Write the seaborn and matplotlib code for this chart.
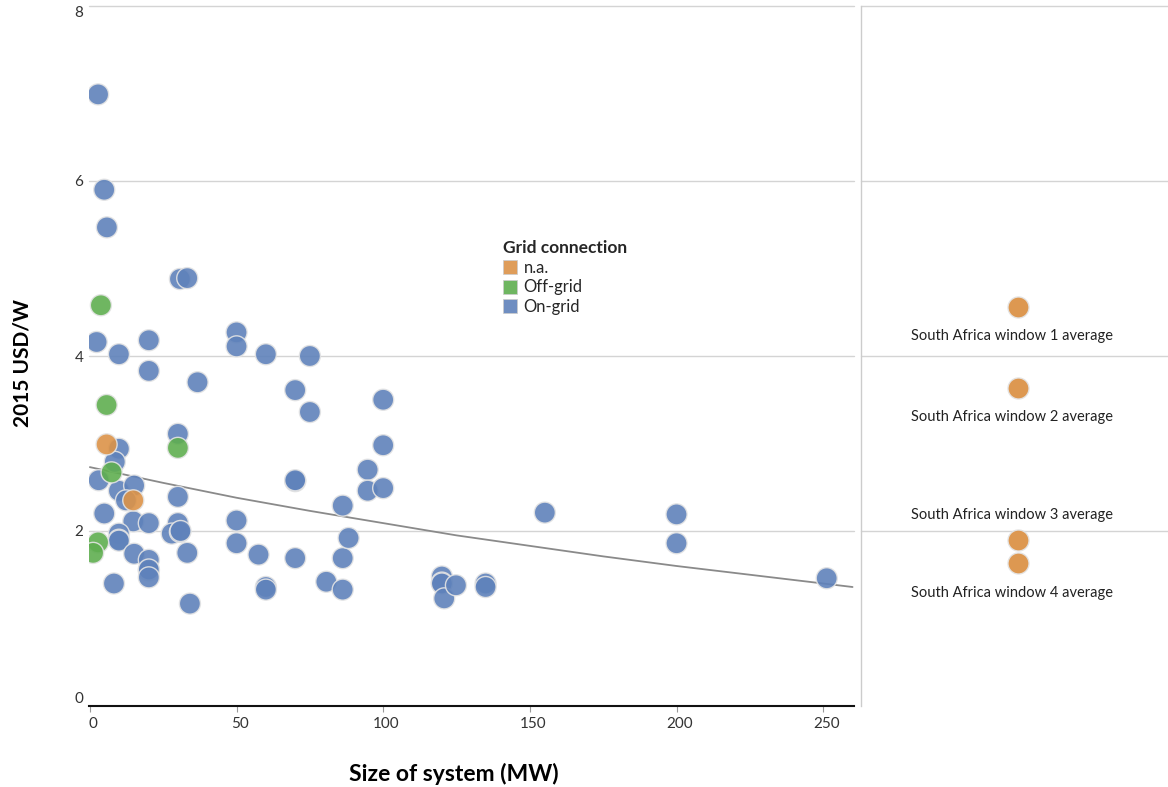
import matplotlib.pyplot as plt
import matplotlib.transforms as mtransforms
from matplotlib.lines import Line2D
import seaborn as sns
import pandas as pd

# size of system (MW) and 2015 USD/W
ongrid_mw = [2.8, 4.9, 5.8, 2.3, 9.9, 20.1, 20.1, 30.7, 33.2, 50, 50, 60, 75, 36.7, 70, 75,
             100, 100, 9.9, 30, 8.5, 3.0, 9.9, 15.1, 12.3, 4.9, 30, 70, 70, 94.7, 94.7, 100,
             86.2, 14.8, 20.1, 30, 27.9, 30.7, 30.9, 50, 50, 9.9, 9.9, 9.9, 15.1, 20.1, 20.1,
             20.1, 20.1, 33.2, 8.2, 34.1, 57.5, 70, 60, 60, 80.6, 86.2, 86.2, 88.2, 120, 120,
             120, 120.8, 124.8, 134.9, 134.9, 155.1, 200, 200, 251.2]
ongrid_usd = [6.99, 5.90, 5.47, 4.16, 4.02, 4.18, 3.83, 4.88, 4.89, 4.27, 4.11, 4.02, 4.00, 3.70, 3.61, 3.36,
              3.50, 2.98, 2.94, 3.11, 2.79, 2.58, 2.46, 2.52, 2.35, 2.20, 2.39, 2.57, 2.58, 2.70, 2.46, 2.49,
              2.29, 2.11, 2.09, 2.09, 1.97, 1.99, 2.00, 2.12, 1.86, 1.97, 1.90, 1.89, 1.74, 1.67, 1.55,
              1.56, 1.47, 1.75, 1.40, 1.17, 1.73, 1.69, 1.36, 1.33, 1.42, 1.33, 1.69, 1.92, 1.48, 1.41,
              1.40, 1.23, 1.38, 1.40, 1.36, 2.21, 2.19, 1.86, 1.46]
offgrid_mw = [3.75, 5.7, 30, 7.4, 2.8, 1.1]
offgrid_usd = [4.58, 3.44, 2.95, 2.67, 1.87, 1.75]
na_mw = [5.7, 14.8]
na_usd = [2.99, 2.35]

# exponential trend line, read at a few points
trend_mw = [0, 25, 50, 75, 100, 125, 150, 175, 200, 225, 260]
trend_usd = [2.73, 2.55, 2.38, 2.23, 2.09, 1.95, 1.83, 1.71, 1.60, 1.50, 1.36]

# South Africa window averages
sa_labels = ['South Africa window 1 average', 'South Africa window 2 average',
             'South Africa window 3 average', 'South Africa window 4 average']
sa_usd = [4.56, 3.64, 1.90, 1.63]
sa_label_side = ['below', 'below', 'above', 'below']

grid_order = ['n.a.', 'Off-grid', 'On-grid']
colors = {'n.a.': '#dc9348', 'Off-grid': '#5fae50', 'On-grid': '#5f82bb'}

df = pd.concat([
    pd.DataFrame({'size': ongrid_mw, 'cost': ongrid_usd, 'grid': 'On-grid'}),
    pd.DataFrame({'size': offgrid_mw, 'cost': offgrid_usd, 'grid': 'Off-grid'}),
    pd.DataFrame({'size': na_mw, 'cost': na_usd, 'grid': 'n.a.'}),
], ignore_index=True)

sns.set_theme(style="white")
plt.rcParams['font.family'] = ['Lato', 'DejaVu Sans']
grid_col = '#d4d4d4'
txt_col = '#333333'

fig = plt.figure(figsize=(11.68, 7.87), dpi=100)
ax = fig.add_axes([89 / 1168, 1 - 706 / 787, 765 / 1168, 700 / 787])
ax2 = fig.add_axes([861 / 1168, 1 - 706 / 787, 307 / 1168, 700 / 787])

# main panel
for v in [2, 4, 6, 8]:
    ax.axhline(v, color=grid_col, lw=1, zorder=0, clip_on=False)
ax.plot(trend_mw, trend_usd, color='#8a8a8a', lw=1.3, zorder=1)
sns.scatterplot(data=df, x='size', y='cost', hue='grid', palette=colors, s=230, alpha=0.9,
                edgecolor='#e4e4e4', linewidth=1, legend=False, ax=ax, zorder=2)

ax.set_xlim(-0.3, 260.5)
ax.set_ylim(0, 8)
ax.set_xticks([0, 50, 100, 150, 200, 250])
ax.set_yticks([0, 2, 4, 6, 8], labels=['0', '2', '4', '6', '8'])
for s in ['top', 'right', 'left']:
    ax.spines[s].set_visible(False)
ax.spines['bottom'].set_color('#111111')
ax.spines['bottom'].set_linewidth(1.5)
ax.tick_params(axis='x', bottom=True, length=4, width=0.8, color='#999999', labelsize=11,
               labelcolor=txt_col, pad=4)
ax.tick_params(axis='y', left=False, length=0, labelsize=11, labelcolor=txt_col, pad=4)
ylabs = ax.get_yticklabels()
ylabs[0].set_va('bottom')
ylabs[-1].set_va('top')
shift = mtransforms.ScaledTranslation(3 / 100, 0, fig.dpi_scale_trans)
for lab in ax.get_xticklabels():
    lab.set_transform(lab.get_transform() + shift)

ax.set_xlabel('Size of system (MW)', fontsize=16.5, fontweight='bold', color='black')
ax.set_ylabel('2015 USD/W', fontsize=15, fontweight='bold', color='black')
ax.xaxis.set_label_coords(0.477, -0.081)
ax.yaxis.set_label_coords(-0.074, 0.49)

handles = [Line2D([0], [0], marker='s', ls='', markersize=9.5, markerfacecolor=colors[g],
                  markeredgecolor='#cccccc', markeredgewidth=0.6, alpha=0.9) for g in grid_order]
leg = ax.legend(handles, grid_order, title='Grid connection', loc='upper left',
                bbox_to_anchor=(0.533, 0.675), frameon=False, fontsize=12,
                handlelength=0.8, handletextpad=0.4, labelspacing=0.22, borderaxespad=0)
leg.get_title().set_fontweight('bold')
leg.get_title().set_fontsize(12.5)
leg._legend_box.align = 'left'

# right panel with South Africa averages
for v in [2, 4, 6, 8]:
    ax2.axhline(v, color=grid_col, lw=1, zorder=0, clip_on=False)
sa_pos = [0] * len(sa_usd)
sns.scatterplot(x=sa_pos, y=sa_usd, color=colors['n.a.'], s=230, alpha=0.95,
                edgecolor='#e4e4e4', linewidth=1, ax=ax2, zorder=2)
for lab, yv, side in zip(sa_labels, sa_usd, sa_label_side):
    off = -21 if side == 'below' else 18
    ax2.annotate(lab, (0, yv), xytext=(-4, off), textcoords='offset points',
                 ha='center', va='center', fontsize=10.5, color='#222222')
ax2.set_xlim(-1.02, 0.98)
ax2.set_ylim(0, 8)
ax2.set_xticks([])
ax2.set_yticks([])
ax2.set_xlabel('')
ax2.set_ylabel('')
for s in ['top', 'right', 'bottom']:
    ax2.spines[s].set_visible(False)
ax2.spines['left'].set_color('#cccccc')
ax2.spines['left'].set_linewidth(1)

fig.savefig('out.png', dpi=100)
